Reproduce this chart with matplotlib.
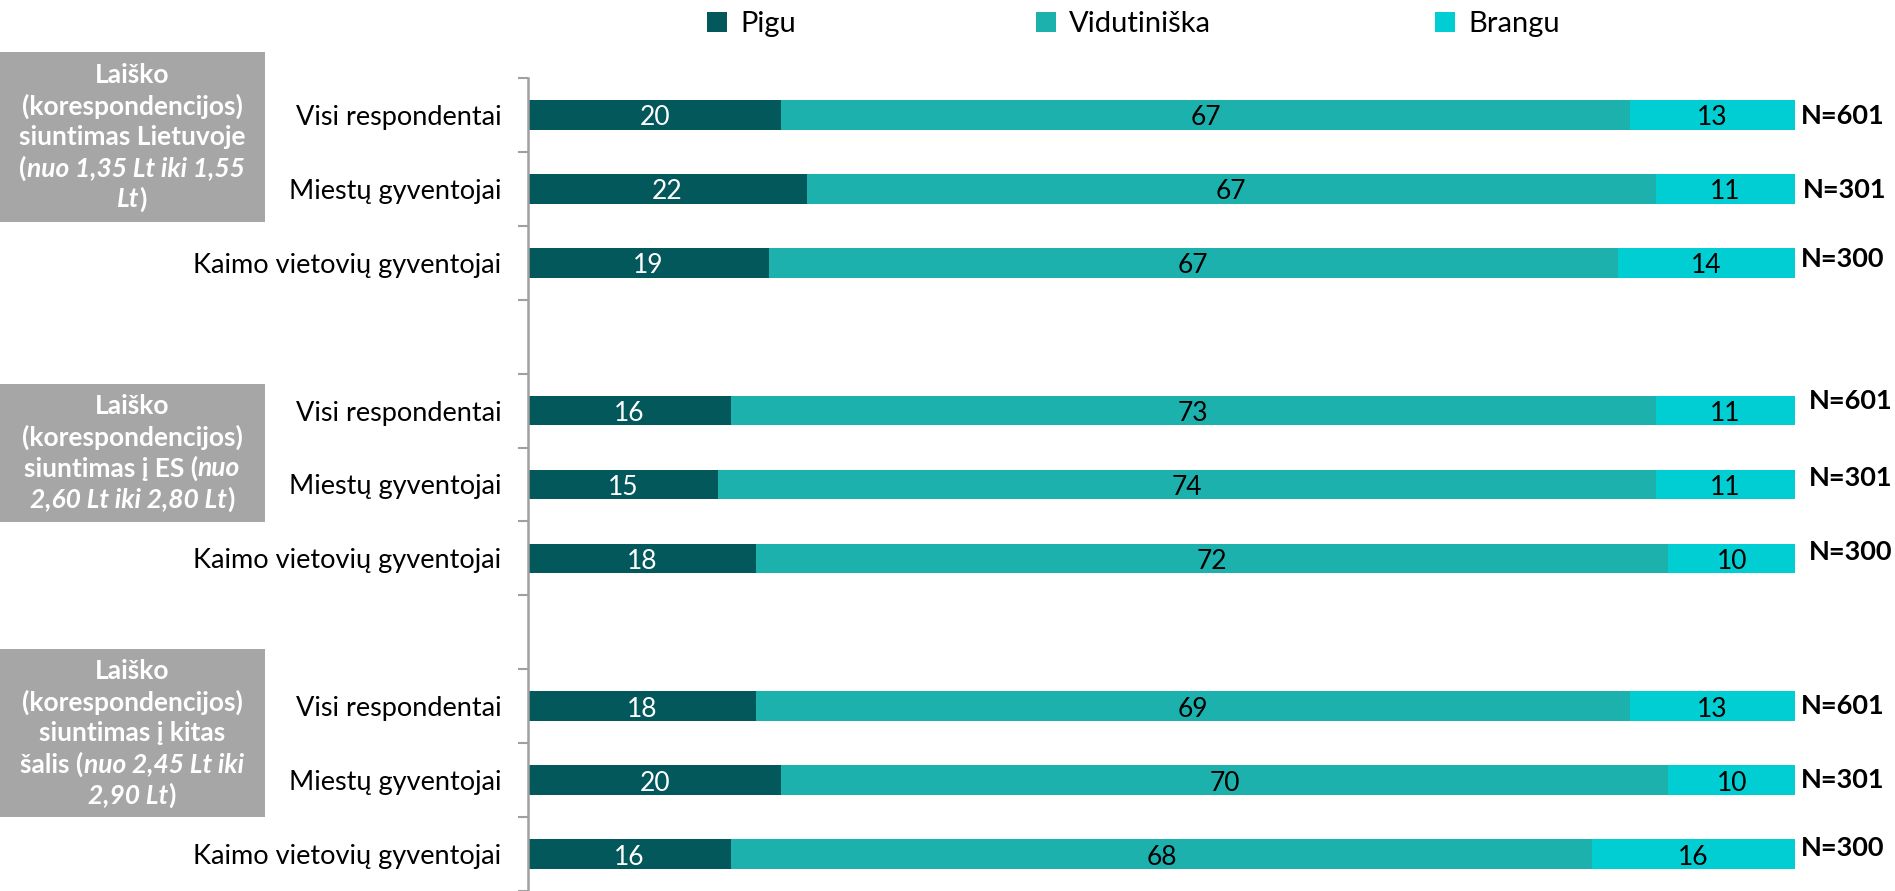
import matplotlib
matplotlib.use("Agg")
import matplotlib.pyplot as plt
from matplotlib.patches import Rectangle

plt.rcParams['font.family'] = ['Lato', 'DejaVu Sans']

# ---------------- data ----------------
categories = ["Visi respondentai", "Miestų gyventojai", "Kaimo vietovių gyventojai", "",
              "Visi respondentai", "Miestų gyventojai", "Kaimo vietovių gyventojai", "",
              "Visi respondentai", "Miestų gyventojai", "Kaimo vietovių gyventojai"]
pigu = [20, 22, 19, None, 16, 15, 18, None, 18, 20, 16]
vidutiniska = [67, 67, 67, None, 73, 74, 72, None, 69, 70, 68]
brangu = [13, 11, 14, None, 11, 11, 10, None, 13, 10, 16]
n_labels = ["N=601", "N=301", "N=300", "",
            "N=601", "N=301", "N=300", "",
            "N=601", "N=301", "N=300"]
series_names = ["Pigu", "Vidutiniška", "Brangu"]
colors = ["#02585B", "#1DB1AE", "#00CED3"]
label_colors = ["white", "black", "black"]

# small vertical nudges (pixels) of the N labels, as placed in the original
n_label_dy = [0, 0, 5, 0, 11, 7, 7, 0, 1, 1, 7]
n_label_dx = [6, 8, 6, 0, 14, 14, 14, 0, 6, 6, 6]

group_boxes = [
    [[("Laiško", False)],
     [("(korespondencijos)", False)],
     [("siuntimas Lietuvoje", False)],
     [("(", False), ("nuo 1,35 Lt iki 1,55", True)],
     [("Lt", True), (")", False)]],
    [[("Laiško", False)],
     [("(korespondencijos)", False)],
     [("siuntimas į ES (", False), ("nuo", True)],
     [("2,60 Lt iki 2,80 Lt", True), (")", False)]],
    [[("Laiško", False)],
     [("(korespondencijos)", False)],
     [("siuntimas į kitas", False)],
     [("šalis (", False), ("nuo 2,45 Lt iki", True)],
     [("2,90 Lt", True), (")", False)]],
]

W, H = 1895, 891
fig = plt.figure(figsize=(W / 100, H / 100), dpi=100)
ax = fig.add_axes([528 / W, 0, 1267 / W, (H - 78) / H])

ypos = list(range(len(categories)))
left = [0] * len(categories)
handles = []
for vals, col, lc, name in zip([pigu, vidutiniska, brangu], colors, label_colors, series_names):
    ys = [y for y, v in zip(ypos, vals) if v is not None]
    vs = [v for v in vals if v is not None]
    ls = [left[y] for y in ys]
    bc = ax.barh(ys, vs, left=ls, height=0.4, color=col, label=name, edgecolor='none')
    handles.append(bc)
    for y, v, l in zip(ys, vs, ls):
        ax.text(l + v / 2, y + 0.04, str(v), ha='center', va='center', fontsize=19, color=lc)
        left[y] = l + v

for y, nl, dy, dx in zip(ypos, n_labels, n_label_dy, n_label_dx):
    if nl:
        ax.annotate(nl, xy=(100, y), xytext=(dx, dy - 1), textcoords='offset pixels',
                    ha='left', va='center', fontsize=19.5, fontweight='bold', annotation_clip=False)

ax.set_xlim(0, 100)
ax.set_ylim(10.5, -0.5)
ax.set_yticks(ypos)
ax.set_yticklabels(categories, fontsize=19.5)
ax.tick_params(axis='y', which='major', length=0, pad=19)
ax.set_yticks([i - 0.5 for i in range(len(categories) + 1)], minor=True)
ax.tick_params(axis='y', which='minor', length=7, width=1.5, color='#A0A0A0')
ax.set_xticks([])
for s in ['top', 'right', 'bottom']:
    ax.spines[s].set_visible(False)
ax.spines['left'].set_color('#A0A0A0')
ax.spines['left'].set_linewidth(1.8)

# legend: one entry per series, placed at the reference positions
legend_x = [718, 1047, 1446]
for h, name, lx in zip(handles, series_names, legend_x):
    fig.legend([h], [name], loc='center left', bbox_to_anchor=(lx / W - 0.006, 1 - 24 / H),
               frameon=False, fontsize=21, handlelength=0.7, handleheight=0.7,
               handletextpad=0.45, borderaxespad=0, borderpad=0)

# gray boxes
box_bounds = [(52, 222), (384, 522), (649, 817)]
fig.canvas.draw()
renderer = fig.canvas.get_renderer()
box_fs = 19
line_h = 31
for (top, bot), lines in zip(box_bounds, group_boxes):
    fig.add_artist(Rectangle((0, 1 - bot / H), 265 / W, (bot - top) / H,
                             transform=fig.transFigure, facecolor='#A6A6A6', edgecolor='none'))
    cy = (top + bot) / 2
    n = len(lines)
    for i, segs in enumerate(lines):
        yc = cy + (i - (n - 1) / 2) * line_h
        texts = []
        widths = []
        for txt, it in segs:
            t = fig.text(0, 1 - yc / H, txt, fontsize=box_fs, fontweight='bold',
                         fontstyle='italic' if it else 'normal', color='white',
                         ha='left', va='center')
            texts.append(t)
            widths.append(t.get_window_extent(renderer).width)
        total = sum(widths)
        x = 132 - total / 2
        for t, w in zip(texts, widths):
            t.set_x(x / W)
            x += w

fig.savefig("out.png", dpi=100)
